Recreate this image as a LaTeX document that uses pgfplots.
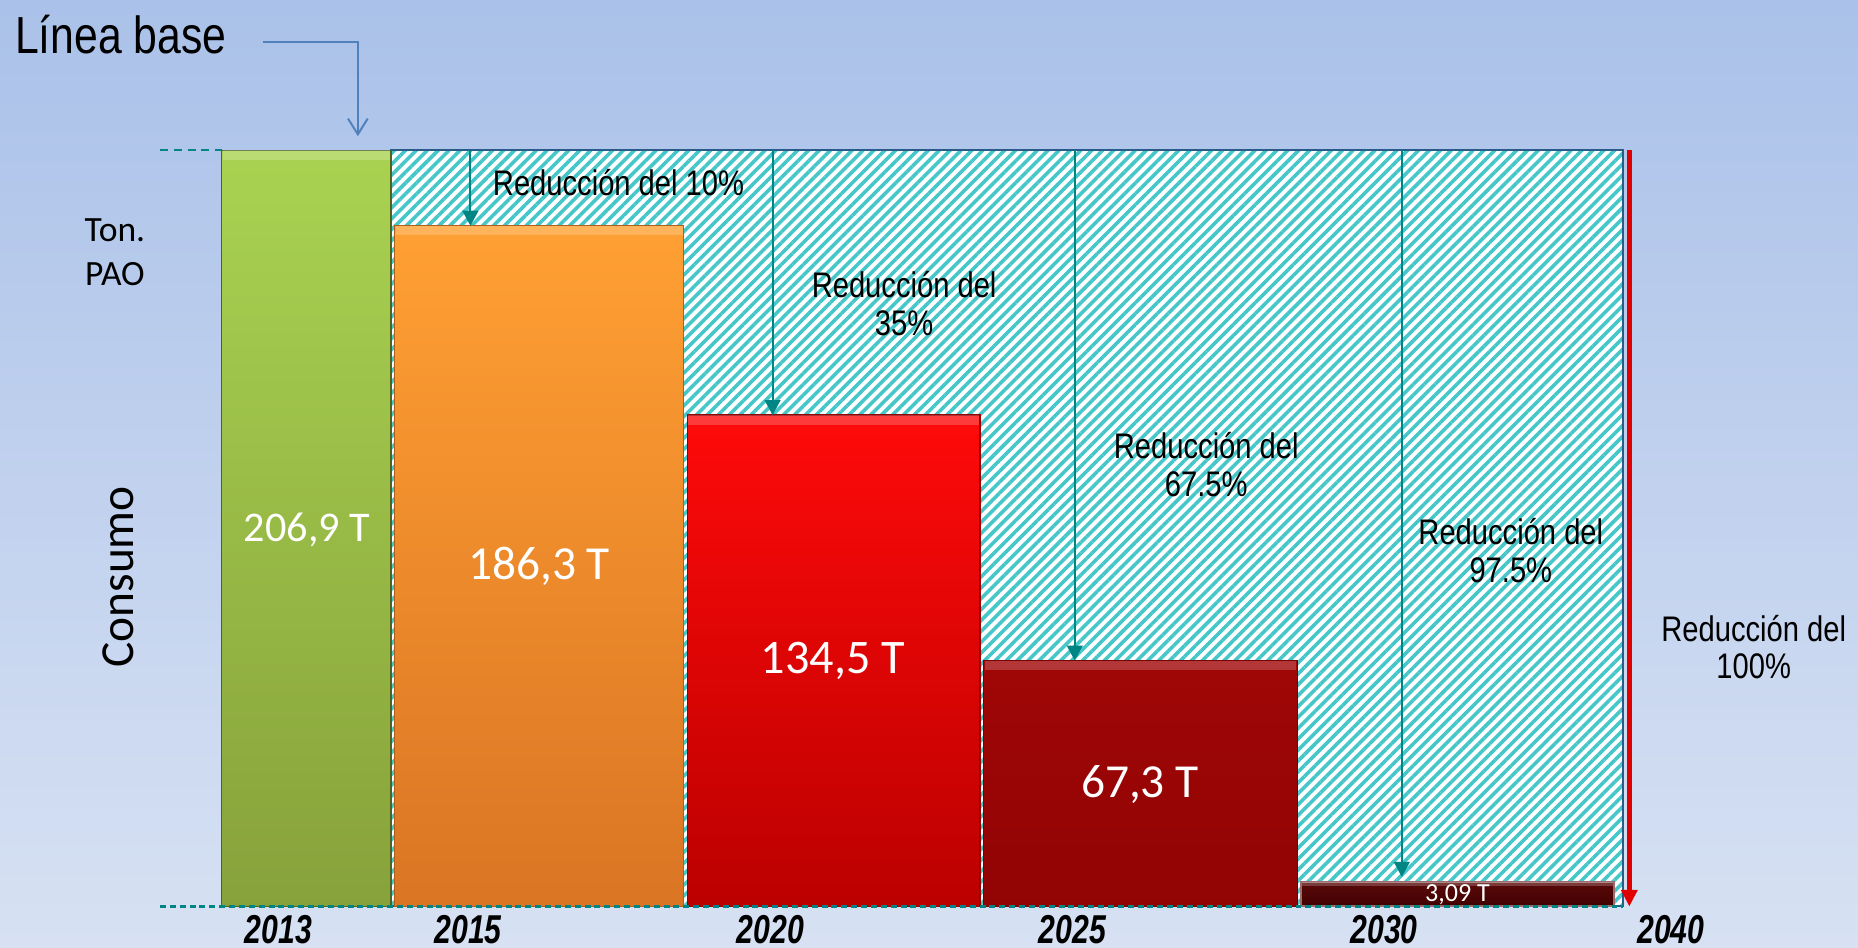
\documentclass[border=0pt]{standalone}
\usepackage{pgfplots}
\pgfplotsset{compat=1.18}
\usepackage{fontspec}
\setmainfont{Liberation Sans}
\newfontfamily\narrow[FakeStretch=0.82]{Liberation Sans}
\newfontfamily\yearfont[FakeStretch=0.75]{Liberation Sans}
\newfontfamily\calibri{Carlito}
\usetikzlibrary{patterns.meta,arrows.meta}
\definecolor{bgtop}{HTML}{AAC1E9}
\definecolor{bgbot}{HTML}{D7E1F3}
\definecolor{gtop}{HTML}{A9D251}
\definecolor{gbot}{HTML}{87A23B}
\definecolor{otop}{HTML}{FFA033}
\definecolor{obot}{HTML}{DA7524}
\definecolor{rtop}{HTML}{FF0A0A}
\definecolor{rbot}{HTML}{BB0000}
\definecolor{dtop}{HTML}{A00606}
\definecolor{dbot}{HTML}{920404}
\definecolor{mtop}{HTML}{5A0A0A}
\definecolor{mbot}{HTML}{420000}
\definecolor{hatch}{HTML}{45C6C8}
\definecolor{hedge}{HTML}{2A5C8A}
\definecolor{tealarrow}{HTML}{008585}
\definecolor{bluearrow}{HTML}{4F81BD}
\definecolor{redarrow}{HTML}{E00000}
\begin{document}
\begin{tikzpicture}
\shade[top color=bgtop,bottom color=bgbot] (0,0) rectangle (470.4pt,240pt);
\begin{axis}[
  at={(39pt,10.5pt)}, anchor=south west,
  scale only axis, width=390pt, height=191.4pt,
  xmin=130, xmax=1430, ymin=0, ymax=206.9,
  clip=false, axis line style={draw=none}, major tick length=0pt,
  ytick=\empty,
  xtick={235,395,650,905,1168,1410},
  xticklabels={2013,2015,2020,2025,2030,2040},
  xticklabel style={font=\yearfont\bfseries\itshape\fontsize{10.2}{12}\selectfont, yshift=1.2pt},
]
% hatched reduction area
\addplot[draw=hedge, line width=0.5pt, fill=white,
  postaction={pattern={Lines[angle=45,distance=1.95pt,line width=0.9pt]}, pattern color=hatch}]
  coordinates {(330,0) (330,206.9) (1370,206.9) (1370,0)} \closedcycle;
% bars
\addplot[ybar, bar width=143, bar shift=0pt, draw=gbot!60!black, line width=0.4pt, top color=gtop, bottom color=gbot] coordinates {(258.5,206.9)};
\addplot[ybar, bar width=244, bar shift=0pt, draw=obot!80!black, line width=0.3pt, top color=otop, bottom color=obot] coordinates {(455,186.3)};
\addplot[ybar, bar width=247, bar shift=0pt, draw=rbot!80!black, line width=0.3pt, top color=rtop, bottom color=rbot] coordinates {(703.5,134.5)};
\addplot[ybar, bar width=265, bar shift=0pt, draw=dbot!80!black, line width=0.3pt, top color=dtop, bottom color=dbot] coordinates {(962.5,67.3)};
\addplot[ybar, bar width=264, bar shift=0pt, draw=mtop!60!white, line width=0.5pt, top color=mtop, bottom color=mbot] coordinates {(1230,6.8)};
% bevel highlights on bar tops
\fill[white, opacity=0.2] (axis cs:188,206.9) rectangle (axis cs:329,204.3);
\fill[white, opacity=0.2] (axis cs:334,186.3) rectangle (axis cs:576,183.7);
\fill[white, opacity=0.2] (axis cs:581,134.5) rectangle (axis cs:826,131.9);
\fill[white, opacity=0.2] (axis cs:831,67.3) rectangle (axis cs:1094,64.7);
\fill[white, opacity=0.2] (axis cs:1099,6.8) rectangle (axis cs:1361,5.6);
% baseline guides
\draw[tealarrow, line width=0.5pt, dash pattern=on 2pt off 1.5pt] (axis cs:135,206.9) -- (axis cs:187,206.9);
\draw[tealarrow, line width=0.7pt, dash pattern=on 1.5pt off 1pt] (axis cs:135,0) -- (axis cs:1370,0);
% reduction arrows
\draw[tealarrow, line width=0.5pt, -{Triangle[width=4pt,length=3.8pt]}] (axis cs:397,206.9) -- (axis cs:397,186.3);
\draw[tealarrow, line width=0.5pt, -{Triangle[width=4pt,length=3.8pt]}] (axis cs:652,206.9) -- (axis cs:652,134.5);
\draw[tealarrow, line width=0.5pt, -{Triangle[width=4pt,length=3.8pt]}] (axis cs:907,206.9) -- (axis cs:907,67.3);
\draw[tealarrow, line width=0.5pt, -{Triangle[width=4pt,length=3.8pt]}] (axis cs:1183,206.9) -- (axis cs:1183,8.1);
\draw[redarrow, line width=1.2pt, -{Triangle[width=4pt,length=4.2pt]}] (axis cs:1375,206.9) -- (axis cs:1375,0);
% baseline arrow
\draw[bluearrow, line width=0.5pt, -{Straight Barb[width=5pt,length=4pt]}] (axis cs:222,236.7) -- (axis cs:302,236.7) -- (axis cs:302,210.8);
% texts
\node[anchor=base west, inner sep=0pt, font=\narrow\fontsize{13.2}{15}\selectfont] at (axis cs:12,233.5) {Línea base};
\node[anchor=base, inner sep=0pt, font=\narrow\fontsize{9}{10}\selectfont] at (axis cs:522,194.7) {Reducción del 10\%};
\node[align=center, inner sep=0pt, font=\narrow\fontsize{9}{9.6}\selectfont] at (axis cs:763,165.1) {Reducción del\\35\%};
\node[align=center, inner sep=0pt, font=\narrow\fontsize{9}{9.6}\selectfont] at (axis cs:1018,121.0) {Reducción del\\67.5\%};
\node[align=center, inner sep=0pt, font=\narrow\fontsize{9}{9.6}\selectfont] at (axis cs:1275,97.3) {Reducción del\\97.5\%};
\node[align=center, inner sep=0pt, font=\narrow\fontsize{9}{9.6}\selectfont] at (axis cs:1480,71.0) {Reducción del\\100\%};
\node[align=center, inner sep=0pt, font=\calibri\fontsize{9}{11.1}\selectfont] at (axis cs:97,179.0) {Ton.\\PAO};
\node[rotate=90, inner sep=0pt, font=\calibri\fontsize{12}{14}\selectfont] at (axis cs:100,90.2) {Consumo};
% bar value labels
\node[text=white, inner sep=0pt, font=\calibri\fontsize{10.7}{12}\selectfont] at (axis cs:259,103.1) {206,9 T};
\node[text=white, inner sep=0pt, font=\calibri\fontsize{12}{14}\selectfont] at (axis cs:455,93.1) {186,3 T};
\node[text=white, inner sep=0pt, font=\calibri\fontsize{12.2}{14}\selectfont] at (axis cs:703,67.1) {134,5 T};
\node[text=white, inner sep=0pt, font=\calibri\fontsize{12}{14}\selectfont] at (axis cs:962,33.4) {67,3 T};
\node[text=white, inner sep=0pt, font=\calibri\fontsize{6.6}{8}\selectfont] at (axis cs:1230,3.3) {3,09 T};
\end{axis}
\pgfresetboundingbox
\useasboundingbox (0,0) rectangle (470.4pt,240pt);
\end{tikzpicture}
\end{document}
